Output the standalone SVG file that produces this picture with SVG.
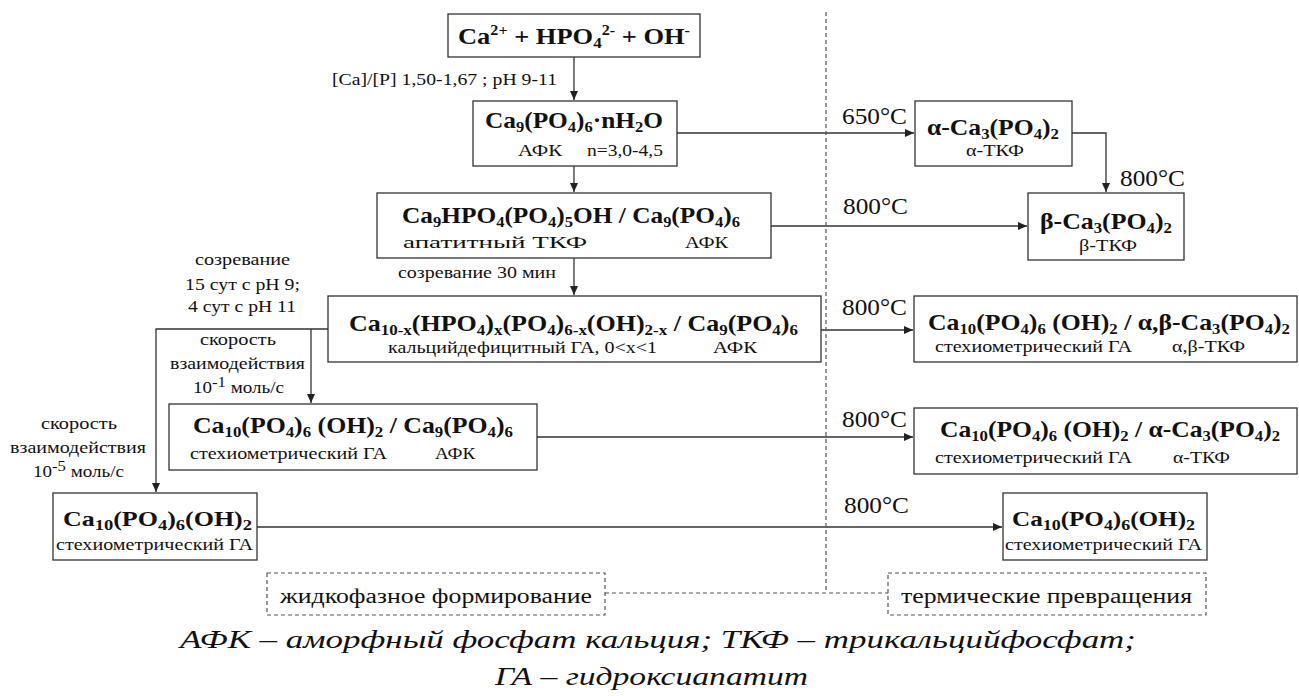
<svg xmlns="http://www.w3.org/2000/svg" width="1299" height="696" viewBox="0 0 1299 696">
<style>
.box{fill:#fff;stroke:#333;stroke-width:1.3}
.dbox{fill:#fff;stroke:#555;stroke-width:1.2;stroke-dasharray:4 3}
.dl{fill:none;stroke:#555;stroke-width:1.2;stroke-dasharray:4 3}
.conn{fill:none;stroke:#333;stroke-width:1.3}
.f,.f2,.s,.t,.l,.d,.c{font-family:Liberation Serif,Tinos,Times New Roman,Times,Nimbus Roman,FreeSerif,Noto Serif,DejaVu Serif,serif;fill:#111}
.f{font-weight:bold;font-size:23px}
.f2{font-weight:bold;font-size:21px}
.s{font-size:16px}
.t{font-size:23px}
.l{font-size:16px}
.d{font-size:20px}
.c{font-size:26px;font-style:italic}
.sb{font-size:15px}
.sp{font-size:14px}
</style>
<defs>
<marker id="ah" markerWidth="9" markerHeight="8" refX="9" refY="4" orient="auto" markerUnits="userSpaceOnUse">
<path d="M0,0 L9,4 L0,8 z" fill="#222"/>
</marker>
</defs>

<g id="connectors">
<path class="conn" d="M574,57 V100" marker-end="url(#ah)"/>
<path class="conn" d="M574,166 V192" marker-end="url(#ah)"/>
<path class="conn" d="M574,258 V295" marker-end="url(#ah)"/>
<path class="conn" d="M677,133 H914" marker-end="url(#ah)"/>
<path class="conn" d="M1072,133 H1106 V192" marker-end="url(#ah)"/>
<path class="conn" d="M771,226 H1027" marker-end="url(#ah)"/>
<path class="conn" d="M821,330 H913" marker-end="url(#ah)"/>
<path class="conn" d="M328,329 H156 V492" marker-end="url(#ah)"/>
<path class="conn" d="M311,329 V403" marker-end="url(#ah)"/>
<path class="conn" d="M537,437 H913" marker-end="url(#ah)"/>
<path class="conn" d="M257,527 H1002" marker-end="url(#ah)"/>
<path class="dl" d="M826,12 V593"/>
<path class="dl" d="M605,593 H888"/>
<text class="l" x="332" y="85" textLength="225" lengthAdjust="spacingAndGlyphs">[Ca]/[P] 1,50-1,67 ; pH 9-11</text>
<text class="t" x="842" y="124" textLength="65" lengthAdjust="spacingAndGlyphs">650°C</text>
<text class="t" x="1120" y="186" textLength="65" lengthAdjust="spacingAndGlyphs">800°C</text>
<text class="t" x="843" y="214" textLength="65" lengthAdjust="spacingAndGlyphs">800°C</text>
<text class="l" x="398" y="278" textLength="158" lengthAdjust="spacingAndGlyphs">созревание 30 мин</text>
<text class="l" x="195" y="265" textLength="95" lengthAdjust="spacingAndGlyphs">созревание</text>
<text class="l" x="185" y="290" textLength="115" lengthAdjust="spacingAndGlyphs">15 сут с pH 9;</text>
<text class="l" x="188" y="312" textLength="108" lengthAdjust="spacingAndGlyphs">4 сут с pH 11</text>
<text class="l" x="200" y="345" textLength="76" lengthAdjust="spacingAndGlyphs">скорость</text>
<text class="l" x="170" y="369" textLength="135" lengthAdjust="spacingAndGlyphs">взаимодействия</text>
<text class="l" x="193" y="393" textLength="91" lengthAdjust="spacingAndGlyphs">10<tspan class="sp" dy="-6">-1</tspan><tspan dy="6"> моль/с</tspan></text>
<text class="l" x="41" y="429" textLength="76" lengthAdjust="spacingAndGlyphs">скорость</text>
<text class="l" x="10" y="453" textLength="136" lengthAdjust="spacingAndGlyphs">взаимодействия</text>
<text class="l" x="33" y="477" textLength="91" lengthAdjust="spacingAndGlyphs">10<tspan class="sp" dy="-6">-5</tspan><tspan dy="6"> моль/с</tspan></text>
<text class="t" x="842" y="315" textLength="65" lengthAdjust="spacingAndGlyphs">800°C</text>
<text class="t" x="842" y="427" textLength="65" lengthAdjust="spacingAndGlyphs">800°C</text>
<text class="t" x="844" y="513" textLength="65" lengthAdjust="spacingAndGlyphs">800°C</text>
</g>

<g id="n1">
<rect class="box" x="448" y="14" width="252" height="43"/>
<text class="f" x="458" y="44" textLength="232" lengthAdjust="spacingAndGlyphs">Ca<tspan class="sp" dy="-9">2+</tspan><tspan dy="9"> + HPO</tspan><tspan class="sb" dy="4">4</tspan><tspan class="sp" dy="-13">2-</tspan><tspan dy="9"> + OH</tspan><tspan class="sp" dy="-9">-</tspan></text>
</g>

<g id="n2">
<rect class="box" x="473" y="101" width="204" height="65"/>
<text class="f" x="485" y="128" textLength="178" lengthAdjust="spacingAndGlyphs">Ca<tspan class="sb" dy="4">9</tspan><tspan dy="-4">(PO</tspan><tspan class="sb" dy="4">4</tspan><tspan dy="-4">)</tspan><tspan class="sb" dy="4">6</tspan><tspan dy="-4">·nH</tspan><tspan class="sb" dy="4">2</tspan><tspan dy="-4">O</tspan></text>
<text class="s" x="518" y="156" textLength="44" lengthAdjust="spacingAndGlyphs">АФК</text>
<text class="s" x="587" y="156" textLength="76" lengthAdjust="spacingAndGlyphs">n=3,0-4,5</text>
</g>

<g id="n3">
<rect class="box" x="915" y="101" width="157" height="65"/>
<text class="f" x="927" y="135" textLength="132" lengthAdjust="spacingAndGlyphs">α-Ca<tspan class="sb" dy="4">3</tspan><tspan dy="-4">(PO</tspan><tspan class="sb" dy="4">4</tspan><tspan dy="-4">)</tspan><tspan class="sb" dy="4">2</tspan></text>
<text class="s" x="966" y="156" textLength="58" lengthAdjust="spacingAndGlyphs">α-ТКФ</text>
</g>

<g id="n4">
<rect class="box" x="377" y="193" width="394" height="65"/>
<text class="f" x="402" y="223" textLength="338" lengthAdjust="spacingAndGlyphs">Ca<tspan class="sb" dy="4">9</tspan><tspan dy="-4">HPO</tspan><tspan class="sb" dy="4">4</tspan><tspan dy="-4">(PO</tspan><tspan class="sb" dy="4">4</tspan><tspan dy="-4">)</tspan><tspan class="sb" dy="4">5</tspan><tspan dy="-4">OH / Ca</tspan><tspan class="sb" dy="4">9</tspan><tspan dy="-4">(PO</tspan><tspan class="sb" dy="4">4</tspan><tspan dy="-4">)</tspan><tspan class="sb" dy="4">6</tspan></text>
<text class="s" x="403" y="248" textLength="184" lengthAdjust="spacingAndGlyphs">апатитный ТКФ</text>
<text class="s" x="685" y="248" textLength="43" lengthAdjust="spacingAndGlyphs">АФК</text>
</g>

<g id="n5">
<rect class="box" x="1028" y="193" width="156" height="67"/>
<text class="f" x="1040" y="229" textLength="132" lengthAdjust="spacingAndGlyphs">β-Ca<tspan class="sb" dy="4">3</tspan><tspan dy="-4">(PO</tspan><tspan class="sb" dy="4">4</tspan><tspan dy="-4">)</tspan><tspan class="sb" dy="4">2</tspan></text>
<text class="s" x="1079" y="251" textLength="58" lengthAdjust="spacingAndGlyphs">β-ТКФ</text>
</g>

<g id="n6">
<rect class="box" x="328" y="296" width="493" height="66"/>
<text class="f" x="349" y="331" textLength="449" lengthAdjust="spacingAndGlyphs">Ca<tspan class="sb" dy="4">10-x</tspan><tspan dy="-4">(HPO</tspan><tspan class="sb" dy="4">4</tspan><tspan dy="-4">)</tspan><tspan class="sb" dy="4">x</tspan><tspan dy="-4">(PO</tspan><tspan class="sb" dy="4">4</tspan><tspan dy="-4">)</tspan><tspan class="sb" dy="4">6-x</tspan><tspan dy="-4">(OH)</tspan><tspan class="sb" dy="4">2-x</tspan><tspan dy="-4"> / Ca</tspan><tspan class="sb" dy="4">9</tspan><tspan dy="-4">(PO</tspan><tspan class="sb" dy="4">4</tspan><tspan dy="-4">)</tspan><tspan class="sb" dy="4">6</tspan></text>
<text class="s" x="388" y="353" textLength="269" lengthAdjust="spacingAndGlyphs">кальцийдефицитный ГА, 0&lt;x&lt;1</text>
<text class="s" x="713" y="353" textLength="44" lengthAdjust="spacingAndGlyphs">АФК</text>
</g>

<g id="n7">
<rect class="box" x="914" y="296" width="383" height="66"/>
<text class="f" x="928" y="330" textLength="362" lengthAdjust="spacingAndGlyphs">Ca<tspan class="sb" dy="4">10</tspan><tspan dy="-4">(PO</tspan><tspan class="sb" dy="4">4</tspan><tspan dy="-4">)</tspan><tspan class="sb" dy="4">6</tspan><tspan dy="-4"> (OH)</tspan><tspan class="sb" dy="4">2</tspan><tspan dy="-4"> / α,β-Ca</tspan><tspan class="sb" dy="4">3</tspan><tspan dy="-4">(PO</tspan><tspan class="sb" dy="4">4</tspan><tspan dy="-4">)</tspan><tspan class="sb" dy="4">2</tspan></text>
<text class="s" x="935" y="352" textLength="197" lengthAdjust="spacingAndGlyphs">стехиометрический ГА</text>
<text class="s" x="1172" y="352" textLength="73" lengthAdjust="spacingAndGlyphs">α,β-ТКФ</text>
</g>

<g id="n8">
<rect class="box" x="169" y="404" width="368" height="66"/>
<text class="f" x="193" y="433" textLength="320" lengthAdjust="spacingAndGlyphs">Ca<tspan class="sb" dy="4">10</tspan><tspan dy="-4">(PO</tspan><tspan class="sb" dy="4">4</tspan><tspan dy="-4">)</tspan><tspan class="sb" dy="4">6</tspan><tspan dy="-4"> (OH)</tspan><tspan class="sb" dy="4">2</tspan><tspan dy="-4"> / Ca</tspan><tspan class="sb" dy="4">9</tspan><tspan dy="-4">(PO</tspan><tspan class="sb" dy="4">4</tspan><tspan dy="-4">)</tspan><tspan class="sb" dy="4">6</tspan></text>
<text class="s" x="190" y="459" textLength="197" lengthAdjust="spacingAndGlyphs">стехиометрический ГА</text>
<text class="s" x="435" y="459" textLength="40" lengthAdjust="spacingAndGlyphs">АФК</text>
</g>

<g id="n9">
<rect class="box" x="914" y="408" width="383" height="66"/>
<text class="f" x="940" y="437" textLength="340" lengthAdjust="spacingAndGlyphs">Ca<tspan class="sb" dy="4">10</tspan><tspan dy="-4">(PO</tspan><tspan class="sb" dy="4">4</tspan><tspan dy="-4">)</tspan><tspan class="sb" dy="4">6</tspan><tspan dy="-4"> (OH)</tspan><tspan class="sb" dy="4">2</tspan><tspan dy="-4"> / α-Ca</tspan><tspan class="sb" dy="4">3</tspan><tspan dy="-4">(PO</tspan><tspan class="sb" dy="4">4</tspan><tspan dy="-4">)</tspan><tspan class="sb" dy="4">2</tspan></text>
<text class="s" x="935" y="463" textLength="197" lengthAdjust="spacingAndGlyphs">стехиометрический ГА</text>
<text class="s" x="1173" y="463" textLength="57" lengthAdjust="spacingAndGlyphs">α-ТКФ</text>
</g>

<g id="n10">
<rect class="box" x="53" y="493" width="204" height="67"/>
<text class="f2" x="63" y="526" textLength="189" lengthAdjust="spacingAndGlyphs">Ca<tspan class="sb" dy="4">10</tspan><tspan dy="-4">(PO</tspan><tspan class="sb" dy="4">4</tspan><tspan dy="-4">)</tspan><tspan class="sb" dy="4">6</tspan><tspan dy="-4">(OH)</tspan><tspan class="sb" dy="4">2</tspan></text>
<text class="s" x="56" y="550" textLength="197" lengthAdjust="spacingAndGlyphs">стехиометрический ГА</text>
</g>

<g id="n11">
<rect class="box" x="1003" y="493" width="204" height="67"/>
<text class="f2" x="1012" y="526" textLength="183" lengthAdjust="spacingAndGlyphs">Ca<tspan class="sb" dy="4">10</tspan><tspan dy="-4">(PO</tspan><tspan class="sb" dy="4">4</tspan><tspan dy="-4">)</tspan><tspan class="sb" dy="4">6</tspan><tspan dy="-4">(OH)</tspan><tspan class="sb" dy="4">2</tspan></text>
<text class="s" x="1005" y="550" textLength="197" lengthAdjust="spacingAndGlyphs">стехиометрический ГА</text>
</g>

<g id="zone-liquid">
<rect class="dbox" x="267" y="573" width="338" height="42"/>
<text class="d" x="280" y="603" textLength="312" lengthAdjust="spacingAndGlyphs">жидкофазное формирование</text>
</g>

<g id="zone-thermal">
<rect class="dbox" x="888" y="573" width="318" height="42"/>
<text class="d" x="901" y="603" textLength="291" lengthAdjust="spacingAndGlyphs">термические превращения</text>
</g>

<g id="caption">
<text class="c" x="180" y="648" textLength="956" lengthAdjust="spacingAndGlyphs">АФК – аморфный фосфат кальция; ТКФ – трикальцийфосфат;</text>
<text class="c" x="495" y="685" textLength="313" lengthAdjust="spacingAndGlyphs">ГА – гидроксиапатит</text>
</g>
</svg>
